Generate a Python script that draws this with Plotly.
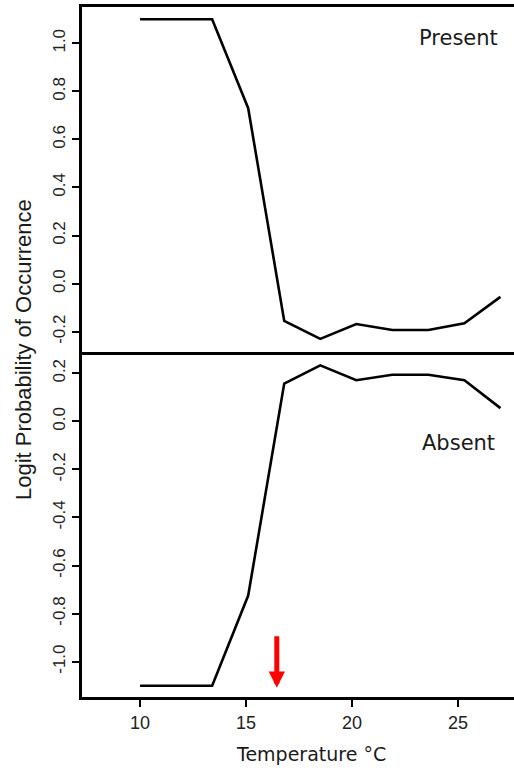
import plotly.graph_objects as go

# ---- data ----
temperature = [10.0, 11.7, 13.4, 15.1, 16.8, 18.5, 20.2, 21.9, 23.6, 25.3, 27.0]
present = [1.10, 1.10, 1.10, 0.73, -0.155, -0.23, -0.168, -0.193, -0.193, -0.165, -0.055]
absent = [-1.10, -1.10, -1.10, -0.725, 0.157, 0.233, 0.171, 0.194, 0.194, 0.171, 0.055]

x_tickvals = [10, 15, 20, 25]
x_ticktext = ["10", "15", "20", "25"]
top_tickvals = [1.0, 0.8, 0.6, 0.4, 0.2, 0.0, -0.2]
top_ticktext = ["1.0", "0.8", "0.6", "0.4", "0.2", "0.0", "-0.2"]
bot_tickvals = [0.2, 0.0, -0.2, -0.4, -0.6, -0.8, -1.0]
bot_ticktext = ["0.2", "0.0", "-0.2", "-0.4", "-0.6", "-0.8", "-1.0"]

arrow_temp = 16.45
arrow_tip = -1.109

# ---- figure ----
fig = go.Figure()
fig.add_trace(go.Scatter(x=temperature, y=absent, mode="lines",
                         line=dict(color="black", width=2.6),
                         xaxis="x", yaxis="y", showlegend=False))
fig.add_trace(go.Scatter(x=temperature, y=present, mode="lines",
                         line=dict(color="black", width=2.6),
                         xaxis="x2", yaxis="y2", showlegend=False))

tick_font = dict(family="Liberation Sans, Arial, sans-serif", size=17, color="#222")
label_font = dict(family="DejaVu Sans, Verdana, sans-serif", size=21, color="#1a1a1a")

xr = [7.26, 27.64]
fig.update_layout(
    width=514, height=771,
    margin=dict(l=82, r=0, t=7, b=74),
    plot_bgcolor="white", paper_bgcolor="white",
    xaxis=dict(domain=[0, 1], range=xr, anchor="y",
               showline=True, linecolor="black", linewidth=3,
               ticks="outside", ticklen=7, tickwidth=2, tickcolor="black",
               tickvals=x_tickvals, ticktext=x_ticktext,
               tickfont=dict(family="Liberation Sans, Arial, sans-serif", size=18, color="#222"),
               showgrid=False, zeroline=False),
    yaxis=dict(domain=[0, 0.5], range=[-1.147, 0.2886], anchor="x",
               showline=True, linecolor="black", linewidth=3,
               ticks="outside", ticklen=7, tickwidth=2, tickcolor="black",
               tickvals=bot_tickvals, ticktext=bot_ticktext, tickangle=-90,
               tickfont=tick_font, showgrid=False, zeroline=False),
    xaxis2=dict(domain=[0, 1], range=xr, anchor="y2",
                showline=True, mirror=True, linecolor="black", linewidth=3,
                showticklabels=False, ticks="",
                showgrid=False, zeroline=False),
    yaxis2=dict(domain=[0.5, 1], range=[-0.2845, 1.151], anchor="x2",
                showline=True, linecolor="black", linewidth=3,
                ticks="outside", ticklen=7, tickwidth=2, tickcolor="black",
                tickvals=top_tickvals, ticktext=top_ticktext, tickangle=-90,
                tickfont=tick_font, showgrid=False, zeroline=False),
)

fig.add_annotation(text="Present", xref="x2 domain", yref="y2 domain",
                   x=0.968, y=0.91, xanchor="right", yanchor="middle",
                   showarrow=False, font=label_font)
fig.add_annotation(text="Absent", xref="x domain", yref="y domain",
                   x=0.961, y=0.736, xanchor="right", yanchor="middle",
                   showarrow=False, font=label_font)
fig.add_annotation(text="Logit Probability of Occurrence", xref="paper", yref="paper",
                   x=-0.134, y=0.503, xanchor="center", yanchor="middle",
                   textangle=-90, showarrow=False,
                   font=dict(family="Liberation Sans, Arial, sans-serif", size=22, color="#1a1a1a"))
fig.add_annotation(text="Temperature °C", xref="paper", yref="paper",
                   x=0.531, y=-0.0826, xanchor="center", yanchor="middle",
                   showarrow=False,
                   font=dict(family="DejaVu Sans, Verdana, sans-serif", size=19, color="#1a1a1a"))
fig.add_annotation(x=arrow_temp, y=arrow_tip, xref="x", yref="y",
                   ax=0, ay=-53, axref="pixel", ayref="pixel",
                   showarrow=True, arrowhead=2, arrowwidth=5, arrowsize=0.65,
                   arrowcolor="#ff0000", text="")

fig.write_html("out.html",
               config={"displayModeBar": False},
               post_script="document.body.style.margin='0';document.body.style.overflow='hidden';")
